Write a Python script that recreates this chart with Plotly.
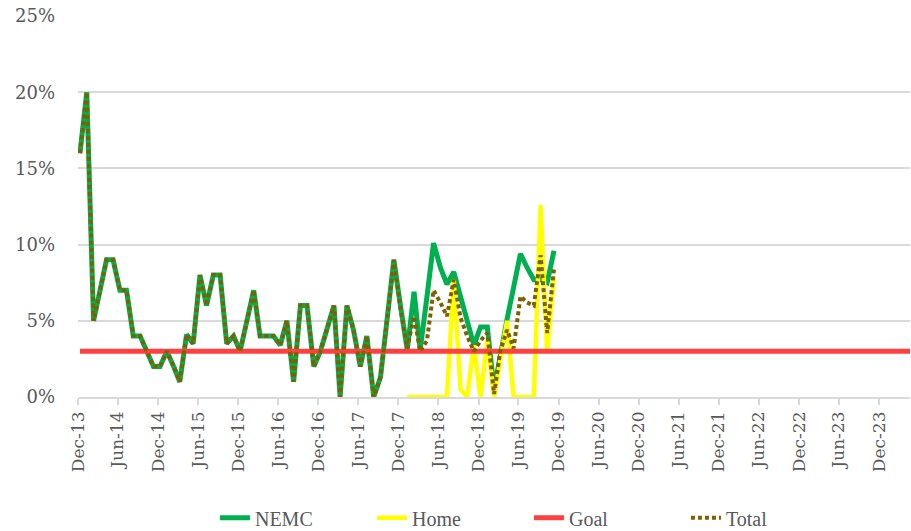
import pandas as pd
import plotly.graph_objects as go

# Monthly observations, Dec-2013 .. Nov-2019 (values in %)
months = [d.strftime("%Y-%m-10") for d in pd.date_range("2013-12-01", "2019-11-01", freq="MS")]

nemc = [16, 20, 5, 7, 9, 9, 7, 7, 4, 4, 3, 2,
        2, 3, 2, 1, 4.1, 3.5, 8, 6, 8, 8, 3.5, 4,
        3, 5, 7, 4, 4, 4, 3.4, 5, 1, 6, 6, 2,
        3, 4.4, 6, 0, 6, 4.4, 2, 4, 0, 1.3, 5, 9,
        6, 3.1, 6.9, 3.1, 6.6, 10.1, 8.5, 7.4, 8.2, 6.6, 5.0, 3.4,
        4.6, 4.6, 0.5, 2.8, 5.1, 7.2, 9.4, 8.5, 7.7, 7.7, 7.5, 9.6]

home = [None] * 49 + [0, 0, 0, 0, 0, 0, 0, 7.7, 0.5, 0, 3.4,
                      0, 3.7, 0, 2.5, 5.0, 0, 0, 0, 0, 12.6, 2.9, 7.9]

total = [16, 20, 5, 7, 9, 9, 7, 7, 4, 4, 3, 2,
         2, 3, 2, 1, 4.1, 3.5, 8, 6, 8, 8, 3.5, 4,
         3, 5, 7, 4, 4, 4, 3.4, 5, 1, 6, 6, 2,
         3, 4.4, 6, 0, 6, 4.4, 2, 4, 0, 1.3, 5, 9,
         5.8, 3.2, 5.3, 3.0, 3.7, 7.0, 6.2, 5.3, 7.7, 5.2, 4.0, 3.0,
         3.7, 4.2, 0.2, 3.0, 4.4, 3.2, 6.6, 6.2, 6.0, 9.3, 4.2, 8.4]

goal_dates = ["2013-12-10", "2024-04-20"]
goal_values = [3, 3]

y_ticks = [0, 5, 10, 15, 20, 25]
y_tick_labels = ["0%", "5%", "10%", "15%", "20%", "25%"]

FONT = "DejaVu Serif"
LEGEND_FONT = "Liberation Serif"
GRAY = "#595959"
GRID = "#D9D9D9"

fig = go.Figure()
fig.add_trace(go.Scatter(x=months, y=nemc, name="NEMC", mode="lines",
                         line=dict(color="#00B050", width=5)))
fig.add_trace(go.Scatter(x=months, y=home, name="Home", mode="lines",
                         line=dict(color="#FFFF00", width=4.5)))
fig.add_trace(go.Scatter(x=goal_dates, y=goal_values, name="Goal", mode="lines",
                         line=dict(color="#FF4040", width=5)))
fig.add_trace(go.Scatter(x=months, y=total, name="Total", mode="lines",
                         line=dict(color="#7F6000", width=4, dash="4px,3px")))

fig.update_layout(
    width=911, height=531,
    margin=dict(l=78, r=1, t=16, b=134, autoexpand=False),
    paper_bgcolor="white", plot_bgcolor="white",
    font=dict(family=FONT, color=GRAY, size=17),
    showlegend=True,
    legend=dict(orientation="h", x=0.542, xanchor="center",
                yref="container", y=0.025, yanchor="middle",
                font=dict(family=LEGEND_FONT, size=20, color=GRAY),
                entrywidth=112, itemwidth=30),
    xaxis=dict(type="date", range=["2013-12-01", "2024-04-20"], automargin=False,
               tick0="2013-12-01", dtick="M6", tickformat="%b-%y",
               tickangle=-90, ticks="outside", ticklen=6, tickcolor=GRID,
               tickwidth=1.5, showgrid=False, showline=True, linecolor=GRID,
               linewidth=1.5, zeroline=False,
               tickfont=dict(family=FONT, size=17, color=GRAY)),
    yaxis=dict(range=[0, 25], tickvals=y_ticks, ticktext=y_tick_labels, automargin=False,
               showgrid=True, gridcolor=GRID, gridwidth=1.5, zeroline=False,
               showline=False, ticks="", ticklabelstandoff=22,
               tickfont=dict(family=FONT, size=18, color=GRAY)),
)

fig.write_html("out.html", config={"displayModeBar": False},
               post_script="document.body.style.margin='0';")
